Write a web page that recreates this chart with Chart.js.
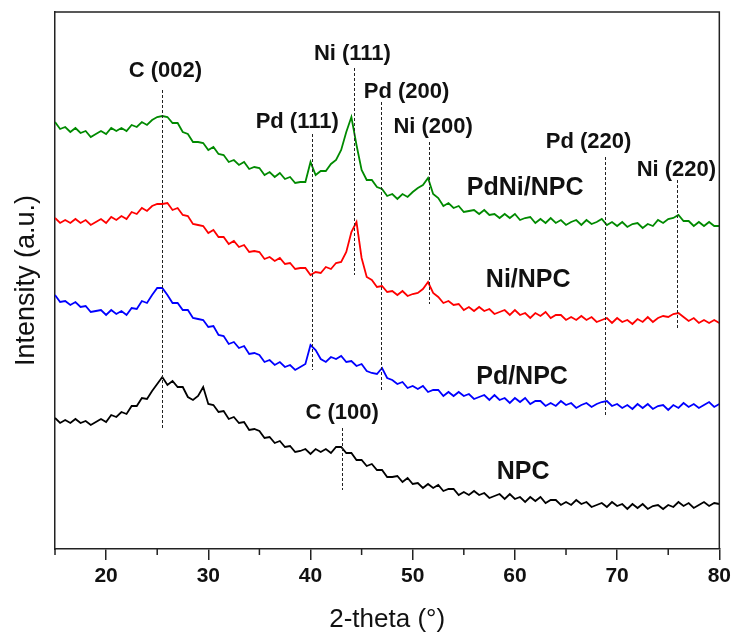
<!DOCTYPE html>
<html>
<head>
<meta charset="utf-8">
<title>XRD patterns</title>
<script src="https://cdn.jsdelivr.net/npm/chart.js@4.4.1/dist/chart.umd.min.js"></script>
<style>
  html, body { margin: 0; padding: 0; background: #fff; }
  canvas { display: block; }
</style>
</head>
<body>
<canvas id="xrd" width="735" height="635"></canvas>
<script>
// 2-theta values (degrees)
const theta = [
  15, 15.5, 16, 16.5, 17, 17.5, 18, 18.5, 19, 19.5,
  20, 20.5, 21, 21.5, 22, 22.5, 23, 23.5, 24, 24.5,
  25, 25.5, 26, 26.5, 27, 27.5, 28, 28.5, 29, 29.5,
  30, 30.5, 31, 31.5, 32, 32.5, 33, 33.5, 34, 34.5,
  35, 35.5, 36, 36.5, 37, 37.5, 38, 38.5, 39, 39.5,
  40, 40.5, 41, 41.5, 42, 42.5, 43, 43.5, 44, 44.5,
  45, 45.5, 46, 46.5, 47, 47.5, 48, 48.5, 49, 49.5,
  50, 50.5, 51, 51.5, 52, 52.5, 53, 53.5, 54, 54.5,
  55, 55.5, 56, 56.5, 57, 57.5, 58, 58.5, 59, 59.5,
  60, 60.5, 61, 61.5, 62, 62.5, 63, 63.5, 64, 64.5,
  65, 65.5, 66, 66.5, 67, 67.5, 68, 68.5, 69, 69.5,
  70, 70.5, 71, 71.5, 72, 72.5, 73, 73.5, 74, 74.5,
  75, 75.5, 76, 76.5, 77, 77.5, 78, 78.5, 79, 79.5,
  80
];

// intensities (a.u., stacked with offsets as in the figure)
const pdniNpc = [
  427, 420, 422, 417, 421, 416, 418, 412, 415, 418,
  415, 421, 418, 421, 418, 424, 422, 427, 424, 429,
  432, 433, 432, 426, 426, 417, 415, 407, 407, 406,
  399, 402, 395, 394, 387, 389, 384, 387, 380, 382,
  381, 374, 377, 372, 376, 370, 372, 366, 367, 367,
  387, 374, 378, 378, 385, 389, 399, 417, 432, 404,
  379, 369, 369, 362, 360, 353, 355, 350, 355, 352,
  357, 361, 364, 371, 355, 351, 343, 346, 341, 343,
  337, 338, 339, 335, 339, 334, 335, 331, 335, 331,
  335, 329, 331, 332, 326, 330, 326, 331, 326, 329,
  324, 327, 329, 324, 329, 325, 327, 330, 324, 327,
  323, 327, 322, 325, 326, 321, 325, 323, 329, 326,
  330, 331, 334, 328, 328, 323, 327, 323, 327, 323,
  323
];

const niNpc = [
  331, 326, 329, 326, 330, 326, 329, 324, 327, 330,
  326, 332, 329, 333, 330, 337, 335, 341, 338, 343,
  345, 345, 346, 339, 341, 334, 333, 325, 324, 323,
  316, 319, 312, 312, 305, 308, 302, 304, 297, 298,
  297, 290, 292, 288, 291, 285, 286, 280, 281, 281,
  274, 277, 276, 282, 280, 286, 287, 297, 317, 327,
  291, 272, 269, 262, 263, 257, 258, 254, 258, 253,
  255, 256, 260, 267, 256, 252, 246, 248, 244, 245,
  239, 242, 238, 242, 238, 240, 235, 237, 239, 234,
  239, 234, 236, 231, 236, 233, 237, 231, 234, 234,
  229, 232, 229, 233, 229, 232, 227, 229, 231, 226,
  231, 227, 229, 225, 230, 227, 232, 227, 231, 233,
  232, 235, 236, 232, 228, 231, 226, 229, 226, 229,
  226
];

const pdNpc = [
  254, 247, 248, 244, 247, 242, 243, 237, 238, 239,
  234, 239, 235, 238, 234, 241, 240, 248, 246, 254,
  261, 261, 254, 246, 246, 239, 239, 231, 230, 229,
  222, 223, 214, 213, 205, 207, 201, 203, 195, 196,
  194, 187, 189, 184, 187, 182, 184, 179, 182, 185,
  204, 199, 190, 187, 192, 190, 193, 187, 188, 183,
  185, 178, 176, 175, 181, 171, 169, 165, 167, 161,
  163, 160, 163, 157, 159, 159, 153, 157, 153, 157,
  153, 155, 150, 152, 154, 149, 154, 149, 151, 146,
  151, 147, 151, 145, 148, 148, 143, 146, 143, 148,
  144, 146, 141, 144, 146, 142, 145, 147, 148, 143,
  145, 141, 144, 140, 145, 141, 145, 140, 143, 144,
  139, 144, 141, 146, 142, 145, 141, 144, 147, 142,
  145
];

const npc = [
  131, 126, 129, 126, 130, 126, 128, 124, 127, 130,
  127, 134, 132, 137, 135, 143, 143, 151, 150, 158,
  165, 172, 164, 168, 162, 162, 152, 149, 153, 162,
  145, 144, 137, 138, 130, 132, 126, 127, 119, 120,
  118, 111, 112, 106, 108, 102, 103, 97, 98, 100,
  95, 100, 97, 100, 96, 102, 102, 96, 96, 89,
  89, 83, 85, 79, 79, 72, 72, 73, 67, 71,
  65, 66, 61, 65, 61, 64, 58, 60, 60, 54,
  57, 54, 58, 54, 56, 51, 53, 55, 50, 55,
  50, 52, 47, 52, 48, 52, 46, 49, 49, 44,
  47, 44, 49, 45, 47, 42, 44, 46, 42, 47,
  43, 45, 40, 45, 41, 45, 40, 43, 44, 40,
  44, 42, 47, 43, 46, 41, 44, 47, 43, 46,
  45
];

const sampleNames = ["PdNi/NPC", "Ni/NPC", "Pd/NPC", "NPC"];
const sampleColors = ["#008a00", "#ff0000", "#0000ff", "#000000"];

// reflection markers: name, 2-theta, dashed line from/to (a.u.), label anchor
const peaks = [
  { name: "C (002)",  at: 25.5,  top: 459, bottom: 121, lx: 25.8, ly: 478 },
  { name: "Pd (111)", at: 40.17, top: 415, bottom: 179, lx: 38.7, ly: 427 },
  { name: "Ni (111)", at: 44.24, top: 481, bottom: 274, lx: 44.1, ly: 495 },
  { name: "Pd (200)", at: 46.9,  top: 447, bottom: 159, lx: 49.4, ly: 457 },
  { name: "Ni (200)", at: 51.63, top: 407, bottom: 245, lx: 52.0, ly: 422 },
  { name: "Pd (220)", at: 68.82, top: 392, bottom: 132, lx: 67.2, ly: 407 },
  { name: "Ni (220)", at: 75.9,  top: 369, bottom: 220, lx: 75.8, ly: 379 },
  { name: "C (100)",  at: 43.1,  top: 121, bottom: 59,  lx: 43.1, ly: 136 }
];
const nameSpots = [[61.0, 361], [61.3, 269], [60.7, 172], [60.8, 77]];

const series = [pdniNpc, niNpc, pdNpc, npc];
const FONT = "'Liberation Sans', Arial, sans-serif";

const datasets = series.map((s, i) => ({
  label: sampleNames[i],
  data: theta.map((t, j) => ({ x: t, y: s[j] })),
  borderColor: sampleColors[i],
  borderWidth: 1.8,
  pointRadius: 0,
  tension: 0,
  fill: false
}));

const overlay = {
  id: "overlay",
  afterDraw(chart) {
    const ctx = chart.ctx;
    const a = chart.chartArea;
    const xs = chart.scales.x;
    const ys = chart.scales.y;
    ctx.save();
    // frame (top and right)
    ctx.strokeStyle = "#222";
    ctx.lineWidth = 1.5;
    ctx.beginPath();
    ctx.moveTo(a.left, a.top);
    ctx.lineTo(a.right, a.top);
    ctx.lineTo(a.right, a.bottom);
    ctx.stroke();
    // minor ticks
    ctx.beginPath();
    for (let v = 15; v < 80; v += 10) {
      const px = xs.getPixelForValue(v);
      ctx.moveTo(px, a.bottom);
      ctx.lineTo(px, a.bottom + 6);
    }
    ctx.stroke();
    // dashed reflection lines
    ctx.lineWidth = 1;
    ctx.setLineDash([3, 2]);
    peaks.forEach(p => {
      const px = Math.round(xs.getPixelForValue(p.at)) + 0.5;
      ctx.beginPath();
      ctx.moveTo(px, ys.getPixelForValue(p.top));
      ctx.lineTo(px, ys.getPixelForValue(p.bottom));
      ctx.stroke();
    });
    ctx.setLineDash([]);
    // labels
    ctx.fillStyle = "#111";
    ctx.font = "bold 22px " + FONT;
    ctx.textAlign = "center";
    ctx.textBaseline = "middle";
    peaks.forEach(p => {
      ctx.fillText(p.name, xs.getPixelForValue(p.lx), ys.getPixelForValue(p.ly));
    });
    ctx.font = "bold 25px " + FONT;
    sampleNames.forEach((n, i) => {
      ctx.fillText(n, xs.getPixelForValue(nameSpots[i][0]), ys.getPixelForValue(nameSpots[i][1]));
    });
    ctx.restore();
  }
};

new Chart(document.getElementById("xrd"), {
  type: "line",
  data: { datasets: datasets },
  options: {
    responsive: false,
    animation: false,
    devicePixelRatio: 1,
    layout: { padding: { top: 12, right: 14, left: 0, bottom: 0 } },
    plugins: { legend: { display: false }, tooltip: { enabled: false } },
    scales: {
      x: {
        type: "linear",
        min: 15,
        max: 80,
        ticks: {
          stepSize: 10,
          includeBounds: false,
          maxRotation: 0,
          padding: 4,
          color: "#111",
          font: { family: FONT, size: 21, weight: "bold" }
        },
        grid: { drawOnChartArea: false, tickLength: 11, color: "#222", lineWidth: 1.5 },
        border: { color: "#222", width: 1.5 },
        title: {
          display: true,
          text: "2-theta (°)",
          color: "#111",
          padding: 0,
          font: { family: FONT, size: 26 }
        },
        afterFit: s => { s.height = 86; }
      },
      y: {
        min: 0,
        max: 537,
        ticks: { display: false },
        grid: { display: false },
        border: { color: "#222", width: 1.5 },
        title: {
          display: true,
          text: "Intensity (a.u.)",
          color: "#111",
          padding: { top: 10, bottom: 0 },
          font: { family: FONT, size: 27 }
        },
        afterFit: s => { s.width = 55; }
      }
    }
  },
  plugins: [overlay]
});
</script>
</body>
</html>
